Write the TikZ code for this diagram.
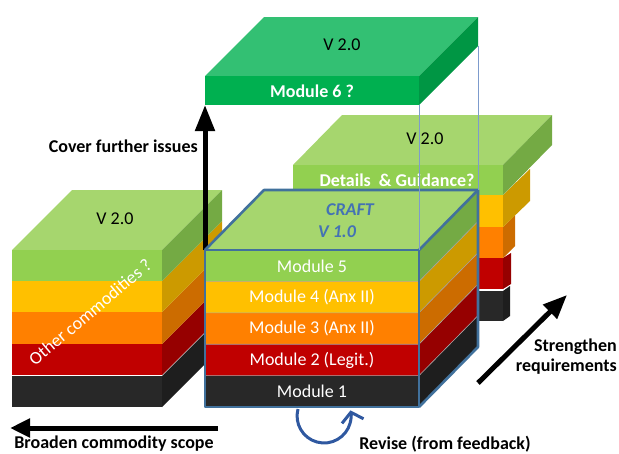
\documentclass[tikz,border=0pt]{standalone}
\usepackage{fontspec}
\setmainfont{Carlito}
\usetikzlibrary{arrows.meta}
\definecolor{topgreen}{RGB}{166,214,110}
\definecolor{frontgreen}{RGB}{146,208,80}
\definecolor{sidegreen}{RGB}{116,170,68}
\definecolor{frontyellow}{RGB}{255,192,0}
\definecolor{sideyellow}{RGB}{204,154,0}
\definecolor{frontorange}{RGB}{255,128,0}
\definecolor{sideorange}{RGB}{204,108,0}
\definecolor{frontred}{RGB}{192,0,0}
\definecolor{sidered}{RGB}{150,0,0}
\definecolor{frontblack}{RGB}{40,40,40}
\definecolor{sideblack}{RGB}{30,30,30}
\definecolor{topsix}{RGB}{51,192,115}
\definecolor{frontsix}{RGB}{0,176,80}
\definecolor{sidesix}{RGB}{0,150,68}
\definecolor{cubeblue}{RGB}{65,113,156}
\definecolor{craftblue}{RGB}{68,114,180}
\definecolor{guideblue}{RGB}{125,155,205}
\definecolor{reviseblue}{RGB}{47,88,160}
% #1 x left, #2 x right, #3 y top, #4 y bottom, #5 dx, #6 dy, #7 front, #8 side
\newcommand{\layerbox}[8]{%
  \fill[#7] (#1,#3) rectangle (#2,#4);
  \fill[#8] (#2,#3) -- ({#2+#5},{#3-#6}) -- ({#2+#5},{#4-#6}) -- (#2,#4) -- cycle;
}
% #1 x left, #2 x right, #3 y top, #4 dx, #5 dy, #6 colour
\newcommand{\topface}[6]{%
  \fill[#6] (#1,#3) -- ({#1+#4},{#3-#5}) -- ({#2+#4},{#3-#5}) -- (#2,#3) -- cycle;
}
\begin{document}
\begin{tikzpicture}[x=1pt,y=-1pt,
  every node/.style={font=\fontsize{18}{20}\selectfont, inner sep=0pt},
  lbl/.style={font=\fontsize{18}{20}\selectfont\bfseries, text=black},
  modlbl/.style={text=white},
  vlbl/.style={text=black},
  craftlbl/.style={font=\fontsize{18}{20}\selectfont\bfseries\itshape, text=craftblue},
  cubeline/.style={draw=cubeblue, line width=2.6pt, line join=round},
  guideline/.style={draw=guideblue, line width=0.7pt},
  bigarrow/.style={draw=black, line width=5pt, -{Triangle[length=26pt,width=19pt]}},
  revise/.style={draw=reviseblue, line width=3pt, -{Straight Barb[length=9pt,width=22pt]}}
]
\useasboundingbox (0,0) rectangle (619,453);

% ---------- back right stack ----------
\topface{293}{503}{165}{49}{50}{topgreen}
\layerbox{293}{503}{291}{321}{7}{5}{frontblack}{sideblack}
\layerbox{293}{503}{258}{289}{8}{5}{frontred}{sidered}
\layerbox{293}{503}{227}{258}{12}{12}{frontorange}{sideorange}
\layerbox{293}{503}{195}{227}{27}{26}{frontyellow}{sideyellow}
\layerbox{293}{503}{165}{195}{49}{50}{frontgreen}{sidegreen}
\node[vlbl] (vback) at (425,139) {V 2.0};
\node[modlbl, font=\fontsize{18}{20}\selectfont\bfseries] (details) at (397,180) {Details\ \ \& Guidance?};

% ---------- module 6 slab ----------
\topface{205}{419}{76}{59}{59}{topsix}
\layerbox{205}{419}{76}{105}{59}{59}{frontsix}{sidesix}
\node[vlbl] (vsix) at (342,45) {V 2.0};
\node[modlbl, font=\fontsize{18}{20}\selectfont\bfseries] (msix) at (312,91) {Module 6 ?};

% ---------- left stack ----------
\topface{12}{162}{250}{60}{60}{topgreen}
\layerbox{12}{162}{376}{407}{60}{60}{frontblack}{sideblack}
\layerbox{12}{162}{344}{375}{60}{60}{frontred}{sidered}
\layerbox{12}{162}{312}{344}{60}{60}{frontorange}{sideorange}
\layerbox{12}{162}{281}{312}{60}{60}{frontyellow}{sideyellow}
\layerbox{12}{162}{250}{281}{60}{60}{frontgreen}{sidegreen}
\node[vlbl] (vleft) at (115,219) {V 2.0};
\node[modlbl, rotate=40] (other) at (90,312) {Other commodities ?};

% ---------- vertical arrow (behind cube) ----------
\coordinate (cfB) at (205,250);
\coordinate (cfT) at (205,105);
\draw[bigarrow] (cfB) -- (cfT);
\node[lbl, anchor=east] (cover) at (198,146) {Cover further issues};

% ---------- CRAFT cube ----------
\topface{205}{419}{250}{59}{60}{topgreen}
\layerbox{205}{419}{375.6}{407}{59}{60}{frontblack}{sideblack}
\layerbox{205}{419}{344.2}{375.6}{59}{60}{frontred}{sidered}
\layerbox{205}{419}{312.8}{344.2}{59}{60}{frontorange}{sideorange}
\layerbox{205}{419}{281.4}{312.8}{59}{60}{frontyellow}{sideyellow}
\layerbox{205}{419}{250}{281.4}{59}{60}{frontgreen}{sidegreen}
\foreach \yy in {281.4,312.8,344.2,375.6}{
  \draw[black!35, line width=0.6pt] (205,\yy) -- (419,\yy) -- ({419+59},{\yy-60});
}
\draw[cubeline] (205,250) rectangle (419,407);
\draw[cubeline] (205,250) -- (264,190) -- (478,190) -- (478,347) -- (419,407);
\draw[cubeline] (419,250) -- (478,190);
\node[craftlbl] (craft) at (350,210) {CRAFT};
\node[craftlbl] (vone) at (337,232) {V 1.0};
\node[modlbl] (m5) at (312,266) {Module 5};
\node[modlbl] (m4) at (312,297) {Module 4 (Anx II)};
\node[modlbl] (m3) at (312,328.5) {Module 3 (Anx II)};
\node[modlbl] (m2) at (312,360) {Module 2 (Legit.)};
\node[modlbl] (m1) at (312,391.5) {Module 1};

% ---------- guide lines ----------
\coordinate (g1a) at (419,105);
\coordinate (g1b) at (419,250);
\coordinate (g2a) at (478,46);
\coordinate (g2b) at (478,190);
\draw[guideline] (g1a) -- (g1b);
\draw[guideline] (g2a) -- (g2b);

% ---------- other arrows ----------
\coordinate (brA) at (218,428);
\coordinate (brB) at (10,428);
\draw[bigarrow, -{Triangle[length=20pt,width=18pt]}] (brA) -- (brB);
\node[lbl] (broaden) at (114,444) {Broaden commodity scope};

\coordinate (stA) at (478,383);
\coordinate (stB) at (567,295);
\draw[bigarrow, -{Triangle[length=24pt,width=19pt]}] (stA) -- (stB);
\node[lbl, anchor=east, align=right] (strength) at (617,357) {Strengthen\\requirements};

\coordinate (rv) at (298,409);
\draw[revise] (rv) arc[start angle=-165, end angle=-372, radius=27];
\node[lbl] (revisel) at (445,444) {Revise (from feedback)};
\end{tikzpicture}
\end{document}
